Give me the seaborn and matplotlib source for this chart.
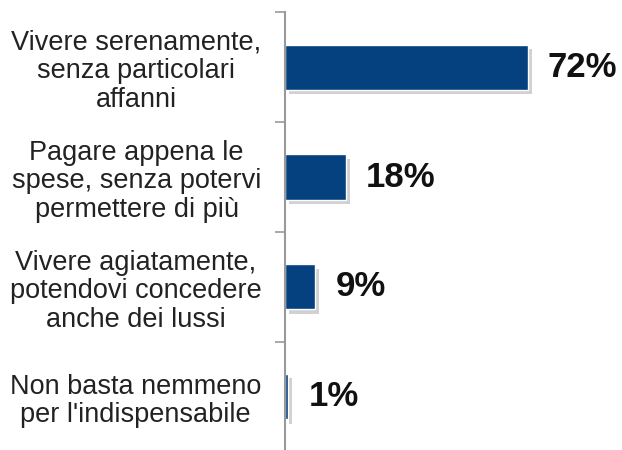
import matplotlib
matplotlib.use("Agg")
import matplotlib.pyplot as plt
import matplotlib.patheffects as pe
import seaborn as sns
import pandas as pd

categorie = [
    "Vivere serenamente,\nsenza particolari\naffanni",
    "Pagare appena le\nspese, senza potervi\npermettere di più",
    "Vivere agiatamente,\npotendovi concedere\nanche dei lussi",
    "Non basta nemmeno\nper l'indispensabile",
]
percentuali = [72, 18, 9, 1]

df = pd.DataFrame({"Risposta": categorie, "Valore": percentuali})

sns.set_style("white")
plt.rcParams["font.family"] = ["Liberation Sans", "DejaVu Sans"]

fig = plt.figure(figsize=(6.22, 4.5), dpi=100)
ax = fig.add_axes([0.458, -0.004, 0.542, 0.977])

sns.barplot(data=df, x="Valore", y="Risposta", color="#05407F",
            width=0.41, saturation=1, ax=ax)

for bar in ax.patches:
    bar.set_path_effects([
        pe.SimplePatchShadow(offset=(3, -3), shadow_rgbFace="#9a9a9a", alpha=0.45),
        pe.Normal(),
    ])

for i, v in enumerate(percentuali):
    ax.text(v + 6, i, f"{v}%", va="center", ha="left",
            fontsize=25, fontweight="bold", color="#111111")

ax.set_xlim(0, 100)
ax.set_ylim(3.5, -0.5)
ax.set_xlabel("")
ax.set_ylabel("")
ax.set_xticks([])

ax.set_yticks(range(len(categorie)))
ax.set_yticklabels(categorie, fontsize=19.5, color="#222222",
                   multialignment="center", linespacing=1.12)
ax.tick_params(axis="y", which="major", left=False, length=0, pad=17)
ax.set_yticks([-0.5, 0.5, 1.5, 2.5, 3.5], minor=True)
ax.tick_params(axis="y", which="minor", left=True, length=7, width=1.2,
               color="#999999", direction="out")

for s in ["top", "right", "bottom"]:
    ax.spines[s].set_visible(False)
ax.spines["left"].set_color("#999999")
ax.spines["left"].set_linewidth(1.5)

fig.savefig("out.png", dpi=100)
